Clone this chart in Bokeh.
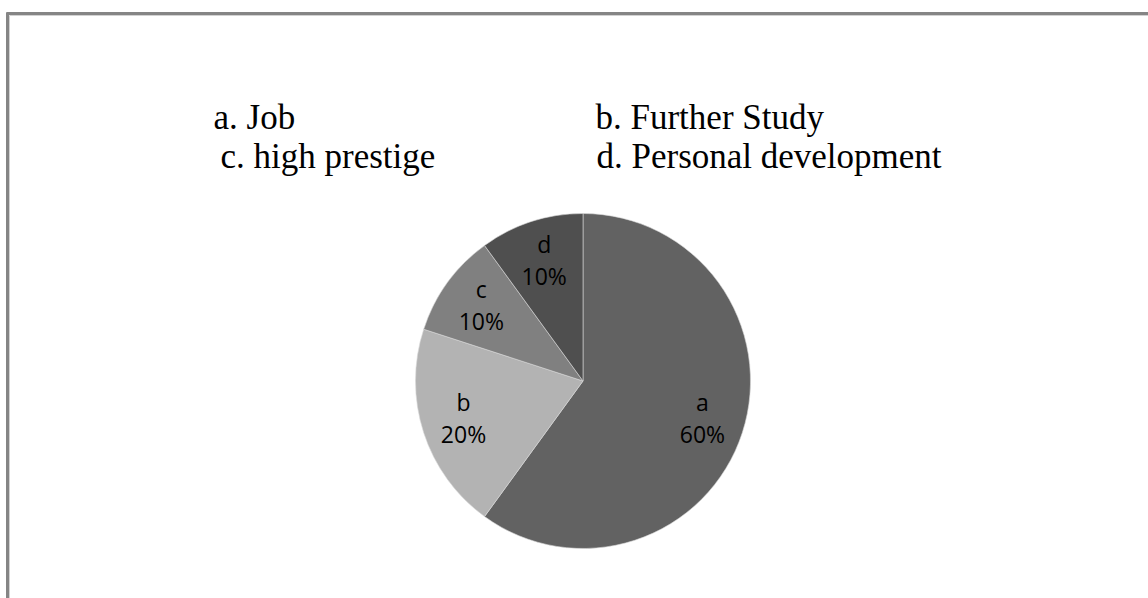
import math
from bokeh.plotting import figure
from bokeh.models import Range1d, ColumnDataSource
from bokeh.core.properties import value
from bokeh.embed import file_html
from bokeh.resources import INLINE

# ---- data ----
categories = ["a", "b", "c", "d"]
percents = [60, 20, 10, 10]
slice_colors = ["#626262", "#b3b3b3", "#808080", "#4f4f4f"]
legend_lines = [["a. Job", "b. Further Study"], ["c. high prestige", "d. Personal development"]]

W, H = 1148, 598
p = figure(width=W, height=H, output_backend="svg", toolbar_location=None,
           x_range=Range1d(0, W), y_range=Range1d(0, H), min_border=0)
p.axis.visible = False
p.grid.visible = False
p.outline_line_color = None
p.background_fill_color = "white"
p.border_fill_color = "white"

# frame border (top and left)
p.line([6, W], [H - 13, H - 13], line_color="#858585", line_width=3)
p.line([9, W], [H - 15, H - 15], line_color="#d2d2d2", line_width=1)
p.line([7, 7], [0, H - 12], line_color="#858585", line_width=3)
p.line([9, 9], [0, H - 15], line_color="#d2d2d2", line_width=1)

# pie
cx, cy, r = 582.5, H - 380.5, 167.5
total = sum(percents)
starts, ends, lx, ly = [], [], [], []
cum = 0
for v in percents:
    a0 = 90 - (cum + v) / total * 360
    a1 = 90 - cum / total * 360
    starts.append(math.radians(a0))
    ends.append(math.radians(a1))
    mid = math.radians((a0 + a1) / 2)
    lx.append(cx + 0.75 * r * math.cos(mid))
    ly.append(cy + 0.75 * r * math.sin(mid) + 2)
    cum += v

src = ColumnDataSource(dict(start=starts, end=ends, color=slice_colors,
                            cat=categories, pct=[f"{v}%" for v in percents],
                            lx=lx, ly=ly,
                            ly1=[y + 16 for y in ly], ly2=[y - 16 for y in ly]))
p.wedge(x=cx, y=cy, radius=r, start_angle="start", end_angle="end",
        fill_color="color", line_color="#d8d8d8", line_alpha=0.6, line_width=1, source=src)

p.text(x="lx", y="ly1", text="cat", source=src, text_align="center", text_baseline="middle",
       text_font=value("Open Sans"), text_font_size="23px", text_color="#000000")
p.text(x="lx", y="ly2", text="pct", source=src, text_align="center", text_baseline="middle",
       text_font=value("Open Sans"), text_font_size="23px", text_color="#000000")

# legend text
col_x = [[213, 595], [220, 596]]
row_y = [H - 117, H - 156]
for ri, row in enumerate(legend_lines):
    for ci, t in enumerate(row):
        p.text(x=[col_x[ri][ci]], y=[row_y[ri]], text=[t], text_align="left",
               text_baseline="alphabetic", text_font=value("Liberation Serif"),
               text_font_size="35px", text_color="#000000")

open("out.html", "w").write(file_html(p, INLINE))
